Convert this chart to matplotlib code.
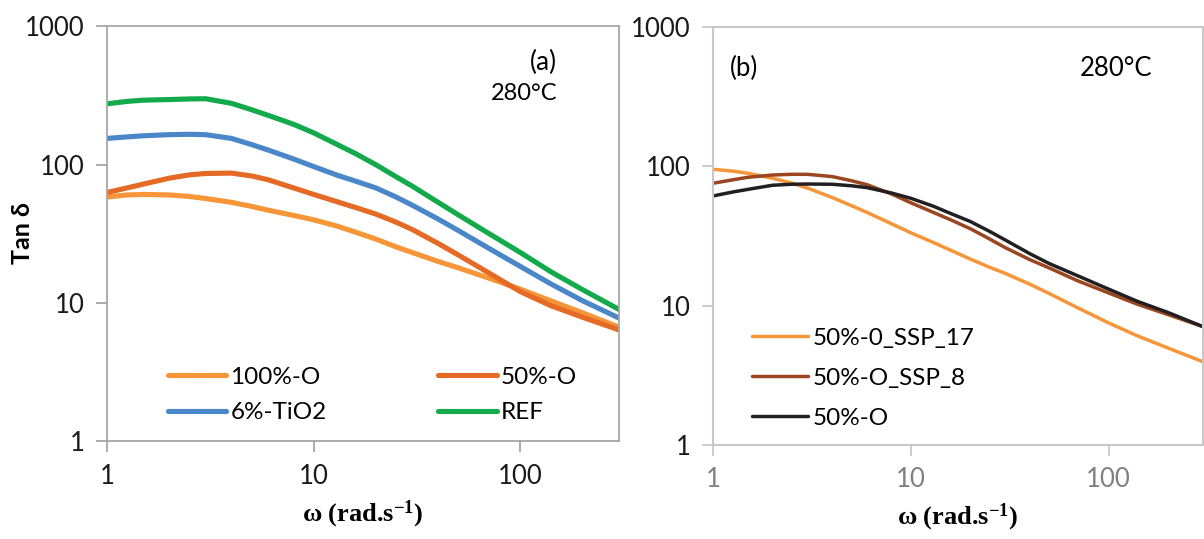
import numpy as np
import matplotlib.pyplot as plt

plt.rcParams['font.family'] = ['Lato', 'DejaVu Sans']
plt.rcParams['mathtext.default'] = 'regular'

# angular frequency (rad/s), same grid for both panels
w = [1, 1.25, 1.5, 2, 2.5, 3, 4, 5, 6, 8, 10, 13, 16, 20, 25, 30, 40, 50, 70, 100, 140, 200, 300]

# panel (a)
ref = [276, 287, 293, 296, 299, 300, 278, 250, 228, 196, 170, 140, 120, 100, 82, 70, 53.5, 43.5, 32, 23.2, 16.9, 12.5, 9.0]
tio2 = [155, 159, 162, 165, 166, 165, 155, 140, 128, 110, 97, 84, 76, 68, 58.5, 51, 40.5, 33.5, 25, 18.4, 13.8, 10.4, 7.8]
o50 = [63, 68, 72.5, 80, 84.5, 86.5, 87, 83, 78, 68, 61, 54, 49, 44, 38.5, 34, 27, 22.3, 16.6, 12.1, 9.6, 7.9, 6.4]
o100 = [58.5, 60.5, 61, 60.5, 59, 57, 53.5, 50, 47, 43, 40, 36, 32.5, 29, 25.5, 23.2, 20, 18, 15.2, 12.6, 10.4, 8.5, 6.7]

# panel (b)
ssp17 = [94.7, 92, 88.7, 81.7, 75.5, 69.5, 59.5, 52, 46.5, 38.5, 33.2, 28.3, 24.8, 21.5, 18.8, 17.0, 14.2, 12.2, 9.6, 7.5, 6.05, 4.95, 3.95]
ssp8 = [75.2, 79.5, 83, 86.2, 87.2, 87.2, 84, 78.5, 73.5, 63, 54.5, 46.5, 41, 35.5, 30, 26, 21.3, 18.6, 15, 12.3, 10.2, 8.6, 7.05]
o50_b = [61, 65, 68, 72.8, 74, 74.3, 74, 72.2, 70, 64, 58.7, 51.5, 45.5, 40, 34, 29.5, 23.5, 20.0, 16.3, 13.1, 10.7, 8.9, 7.05]

xticks = [1, 10, 100]
yticks = [1, 10, 100, 1000]

fig = plt.figure(figsize=(12.04, 5.39), dpi=100)
ax1 = fig.add_axes([0.0889, 0.181, 0.4252, 0.770])
ax2 = fig.add_axes([0.5922, 0.1744, 0.407, 0.7764])

lw1 = 3.7
kw = dict(solid_capstyle='round', solid_joinstyle='round')
l1, = ax1.plot(w, o100, color='#F79539', lw=lw1, label='100%-O', **kw)
l2, = ax1.plot(w, o50, color='#E46A25', lw=lw1, label='50%-O', **kw)
l3, = ax1.plot(w, tio2, color='#4A87C8', lw=lw1, label='6%-TiO2', **kw)
l4, = ax1.plot(w, ref, color='#13AA4B', lw=lw1, label='REF', **kw)

lw2 = 2.5
ax2.plot(w, ssp17, color='#F79539', lw=lw2, label='50%-0_SSP_17', **kw)
ax2.plot(w, ssp8, color='#9B4620', lw=lw2, label='50%-O_SSP_8', **kw)
ax2.plot(w, o50_b, color='#231F20', lw=lw2, label='50%-O', **kw)

for ax in (ax1, ax2):
    ax.set_xscale('log')
    ax.set_yscale('log')
    ax.set_xlim(1, 300)
    ax.set_ylim(1, 1000)
    ax.set_xticks(xticks)
    ax.set_xticklabels([str(t) for t in xticks])
    ax.set_yticks(yticks)
    ax.set_yticklabels([str(t) for t in yticks])
    ax.minorticks_off()
    ax.tick_params(axis='both', length=8, width=1.3, labelsize=18.5)
    ax.tick_params(axis='x', pad=8)
    ax.tick_params(axis='y', pad=8)
    ax.set_xlabel('ω (rad.s$^{-1}$)', family=['Liberation Serif', 'DejaVu Serif'],
                  fontweight='bold', fontsize=19, labelpad=7)

for s in ax1.spines.values():
    s.set_color('#a6a6a6')
    s.set_linewidth(1.3)
ax1.tick_params(colors='#a6a6a6', labelcolor='#1a1a1a')
for s in ax2.spines.values():
    s.set_color('#c8c8c8')
    s.set_linewidth(1.5)
ax2.tick_params(colors='#c8c8c8', labelcolor='#1a1a1a')
ax2.tick_params(axis='x', labelcolor='#808080')

ax1.set_ylabel('Tan δ', fontweight='bold', fontsize=18, va='center')
ax1.yaxis.set_label_coords(-0.166, 0.502)

ax1.text(0.879, 0.912, '(a)', transform=ax1.transAxes, fontsize=19, ha='right', va='center')
ax1.text(0.879, 0.838, '280°C', transform=ax1.transAxes, fontsize=17, ha='right', va='center')
ax2.text(0.035, 0.90, '(b)', transform=ax2.transAxes, fontsize=18.5, ha='left', va='center')
ax2.text(0.896, 0.90, '280°C', transform=ax2.transAxes, fontsize=18.5, ha='right', va='center')

ax1.legend(handles=[l1, l3, l2, l4], ncol=2, loc='upper left', bbox_to_anchor=(0.119, 0.18),
           frameon=False, fontsize=17.5, handlelength=2.4, handletextpad=0.17,
           columnspacing=4.6, labelspacing=0.6, borderpad=0, borderaxespad=0)
ax2.legend(loc='upper left', bbox_to_anchor=(0.08, 0.28), frameon=False, fontsize=17.5,
           handlelength=2.3, handletextpad=0.2, labelspacing=0.78, borderpad=0, borderaxespad=0)

fig.savefig('out.png', dpi=100)
